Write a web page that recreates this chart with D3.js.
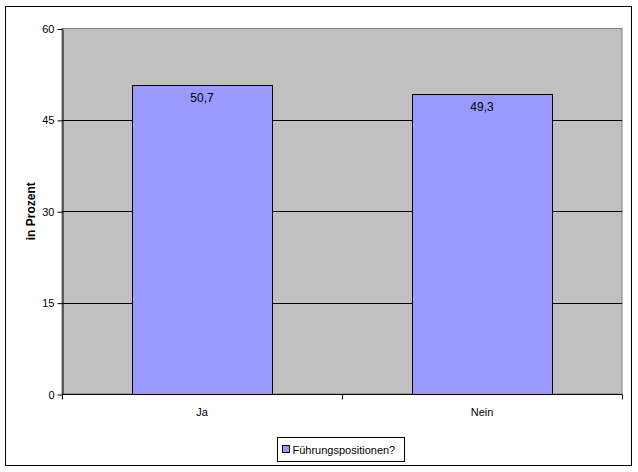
<!DOCTYPE html>
<html>
<head>
<meta charset="utf-8">
<script src="https://cdn.jsdelivr.net/npm/d3@7"></script>
<style>
  body { margin: 0; background: #fff; }
  text { font-family: Arial, "Liberation Sans", sans-serif; }
</style>
</head>
<body>
<svg width="638" height="472"></svg>
<script>
var categories = ["Ja", "Nein"];
var values = [50.7, 49.3];
var labels = ["50,7", "49,3"];
var yTicks = [0, 15, 30, 45, 60];
var seriesName = "Führungspositionen?";

function main() {
    var svg = d3.select("svg");
    var left = 62, right = 622, top = 28.5, bottom = 394;

    // outer frame
    svg.append("rect")
        .attr("x", 5.5).attr("y", 6.5)
        .attr("width", 626).attr("height", 459)
        .attr("fill", "#fff").attr("stroke", "#000");

    var x = d3.scaleBand()
        .domain(categories)
        .range([left, right])
        .paddingInner(0.5)
        .paddingOuter(0.25);

    var y = d3.scaleLinear()
        .domain([0, 60])
        .range([bottom, top]);

    // plot background
    svg.append("rect")
        .attr("x", left).attr("y", y(60))
        .attr("width", right - left).attr("height", y(0) - y(60))
        .attr("fill", "#c0c0c0")
        .attr("stroke", "#808080");

    // gridlines
    svg.append("g")
        .selectAll("line")
        .data(yTicks.filter(function(d) { return d > 0 && d < 60; }))
        .enter().append("line")
        .attr("x1", left).attr("x2", right)
        .attr("y1", function(d) { return Math.round(y(d)) + 0.5; })
        .attr("y2", function(d) { return Math.round(y(d)) + 0.5; })
        .attr("stroke", "#000");

    // bars
    svg.append("g")
        .selectAll("rect")
        .data(values)
        .enter().append("rect")
        .attr("x", function(d, i) { return Math.round(x(categories[i])) + 0.5; })
        .attr("y", function(d) { return Math.round(y(d)) + 0.5; })
        .attr("width", x.bandwidth())
        .attr("height", function(d) { return Math.round(y(0)) - Math.round(y(d)); })
        .attr("fill", "#9999ff")
        .attr("stroke", "#000");

    // value labels
    svg.append("g")
        .selectAll("text")
        .data(values)
        .enter().append("text")
        .attr("x", function(d, i) { return x(categories[i]) + x.bandwidth() / 2; })
        .attr("y", function(d) { return y(d) + 17; })
        .attr("text-anchor", "middle")
        .attr("font-size", "12px")
        .text(function(d, i) { return labels[i]; });

    // Y axis
    var yAxis = svg.append("g")
        .attr("transform", "translate(" + (left + 0.5) + ",0.5)")
        .call(d3.axisLeft(y).tickValues(yTicks).tickSize(5).tickSizeOuter(0));
    yAxis.select(".domain").attr("stroke", "#000");
    yAxis.selectAll(".tick text").attr("font-size", "11px").attr("font-family", "Arial, 'Liberation Sans', sans-serif").attr("fill", "#000").attr("x", -8);
    yAxis.selectAll(".tick line").attr("stroke", "#000");

    // X axis
    var xAxis = svg.append("g")
        .attr("transform", "translate(0," + (Math.round(bottom) + 0.5) + ")");
    xAxis.append("line")
        .attr("x1", left).attr("x2", right)
        .attr("stroke", "#000");
    var bounds = [left, (left + right) / 2, right];
    xAxis.selectAll("line.tk")
        .data(bounds)
        .enter().append("line")
        .attr("class", "tk")
        .attr("x1", function(d) { return Math.round(d) + 0.5; })
        .attr("x2", function(d) { return Math.round(d) + 0.5; })
        .attr("y1", 0).attr("y2", 5)
        .attr("stroke", "#000");
    xAxis.selectAll("text")
        .data(categories)
        .enter().append("text")
        .attr("x", function(d) { return x(d) + x.bandwidth() / 2; })
        .attr("y", 21)
        .attr("text-anchor", "middle")
        .attr("font-size", "11px")
        .text(function(d) { return d; });

    // Y axis title
    svg.append("text")
        .attr("transform", "translate(35," + ((top + bottom) / 2) + ") rotate(-90)")
        .attr("text-anchor", "middle")
        .attr("font-size", "12px")
        .attr("font-weight", "bold")
        .text("in Prozent");

    // legend
    var lg = svg.append("g").attr("transform", "translate(277.5,437.5)");
    lg.append("rect")
        .attr("width", 127).attr("height", 24)
        .attr("fill", "#fff").attr("stroke", "#000");
    lg.append("rect")
        .attr("x", 5).attr("y", 8)
        .attr("width", 7).attr("height", 7)
        .attr("fill", "#9999ff").attr("stroke", "#000");
    lg.append("text")
        .attr("x", 15).attr("y", 16)
        .attr("font-size", "11px")
        .text(seriesName);
}
main();
</script>
</body>
</html>
